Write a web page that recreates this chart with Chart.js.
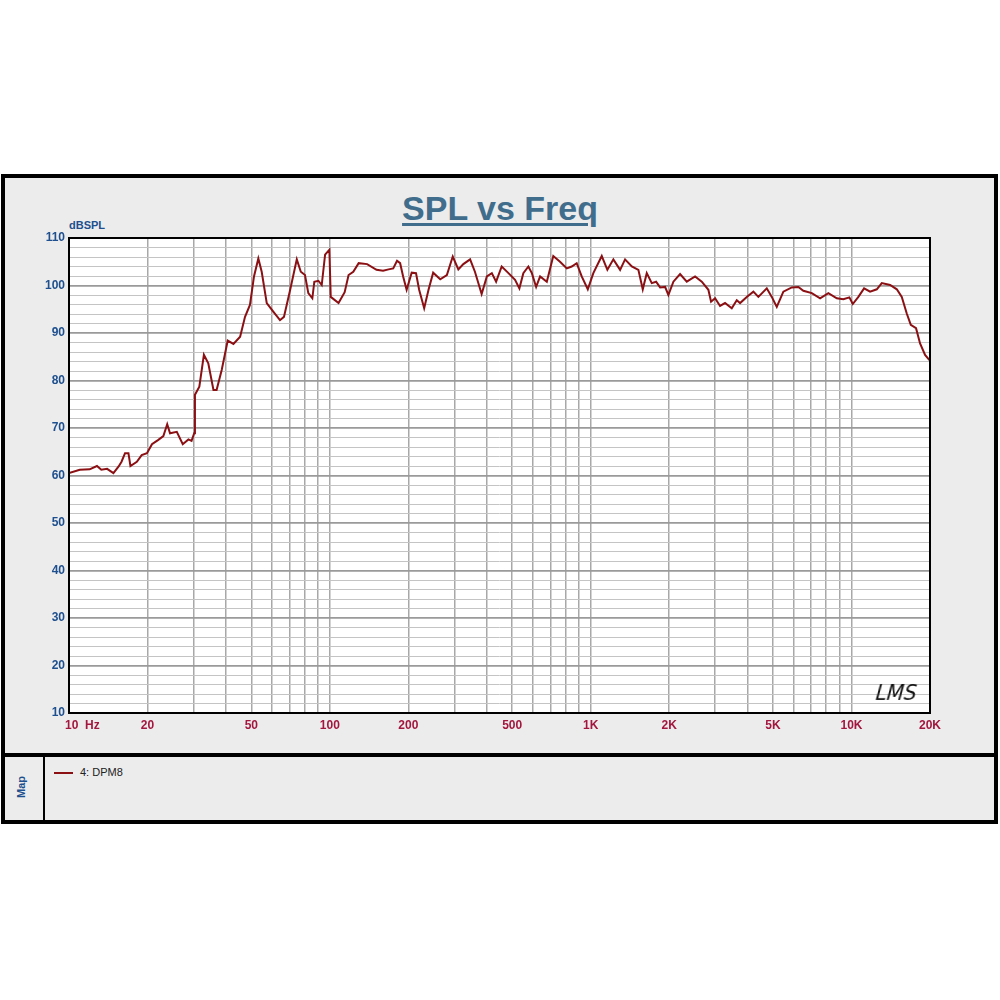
<!DOCTYPE html>
<html>
<head>
<meta charset="utf-8">
<script src="https://cdn.jsdelivr.net/npm/chart.js@4"></script>
<style>
  html, body { margin:0; padding:0; background:#ffffff; }
  #wrap { position:relative; width:1000px; height:1000px; overflow:hidden; font-family: Arial, "Liberation Sans", sans-serif; }
  #frame { position:absolute; left:1px; top:174px; width:989px; height:642px; border:4px solid #000; background:#ececec; }
  #sep { position:absolute; left:1px; top:753px; width:997px; height:4px; background:#000; }
  #vsep { position:absolute; left:43px; top:757px; width:2px; height:63px; background:#000; }
  #title { position:absolute; left:0; top:190px; width:1000px; text-align:center; font: bold 34px Arial, "Liberation Sans", sans-serif; line-height:36px; color:#416d8c; text-decoration: underline; text-decoration-thickness:3px; text-underline-offset:3px; }
  #yunit { position:absolute; left:69px; top:219px; font: bold 11px Arial, "Liberation Sans", sans-serif; color:#1e4f8e; }
  #map { position:absolute; left:9px; top:780px; width:26px; text-align:center; font: bold 11px Arial, "Liberation Sans", sans-serif; color:#1e4f8e; transform: rotate(-90deg); transform-origin: 13px 7px; }
  #legline { position:absolute; left:54px; top:772px; width:19px; height:2px; background:#8b1014; }
  #legtext { position:absolute; left:80px; top:766px; font: 11px Arial, "Liberation Sans", sans-serif; color:#222; }
  #lms { position:absolute; left:877px; top:682px; font: italic 21px "DejaVu Sans", sans-serif; line-height:22px; color:#111; transform: scaleX(0.95) skewX(-6deg); transform-origin: left top; }
  canvas { position:absolute; left:0; top:0; }
</style>
</head>
<body>
<div id="wrap">
  <div id="frame"></div>
  <div id="sep"></div>
  <div id="vsep"></div>
  <div id="title">SPL vs Freq</div>
  <div id="yunit">dBSPL</div>
  <div id="map">Map</div>
  <div id="legline"></div>
  <div id="legtext">4: DPM8</div>
  <canvas id="c" width="1000" height="1000" style="width:1000px;height:1000px"></canvas>
  <div id="lms">LMS</div>
</div>
<script>
// ---- data (frequency in Hz, level in dB SPL) ----
const seriesName = "4: DPM8";
const freqs = [
  10, 11.0, 12.0, 12.8, 13.3, 14.0, 14.8, 15.5, 15.9, 16.4, 16.9, 17.2, 18.2, 19.0, 19.9,
  20.8, 22.0, 23.0, 23.8, 24.4, 25.9, 27.3, 28.7, 29.5, 30.2, 30.4, 31.6, 32.9, 34.2, 35.8,
  36.8, 38.5, 40.6, 42.7, 45.3, 47.3, 49.4, 51.2, 53.2, 54.8, 57.3, 60.7, 64.4, 66.7, 70.4,
  74.7, 77.4, 80.3, 82.7, 85.7, 87.2, 90.4, 93.1, 95.9, 99.6, 100.8, 108, 114, 118, 123,
  129, 139, 151, 160, 168, 175, 181, 186, 191, 197, 206, 214, 220, 230, 239,
  249, 265, 281, 296, 311, 325, 345, 360, 382, 400, 418, 434, 456, 484, 513,
  533, 552, 577, 595, 618, 640, 679, 719, 763, 810, 846, 884, 924, 975, 1024,
  1103, 1159, 1222, 1297, 1355, 1438, 1524, 1584, 1641, 1715, 1782, 1846, 1929, 1986, 2076,
  2202, 2336, 2514, 2667, 2827, 2895, 2999, 3134, 3275, 3475, 3632, 3740, 3967, 4206, 4395,
  4734, 4948, 5171, 5481, 5903, 6257, 6540, 7044, 7579, 8155, 8782, 9309, 9815, 10116, 10627,
  11176, 11784, 12503, 13068, 14060, 14920, 15590, 16290, 16880, 17680, 18320, 19150, 19900
];
const spl = [
  60.5, 61.2, 61.3, 62.0, 61.2, 61.4, 60.5, 61.9, 62.9, 64.7, 64.7, 62.0, 62.9, 64.3, 64.7,
  66.6, 67.5, 68.3, 70.8, 68.9, 69.2, 66.6, 67.6, 67.3, 68.9, 77.0, 78.7, 85.4, 83.6, 78.0,
  78.0, 82.2, 88.4, 87.7, 89.2, 93.4, 95.9, 101.9, 105.7, 102.9, 96.3, 94.5, 92.7, 93.4, 99.0,
  105.5, 102.9, 102.2, 98.4, 97.3, 100.8, 101.0, 100.1, 106.5, 107.5, 97.6, 96.3, 98.6, 102.2, 102.9,
  104.7, 104.5, 103.3, 103.1, 103.4, 103.6, 105.2, 104.7, 101.9, 99.1, 102.7, 102.6, 99.1, 95.2, 99.1,
  102.7, 101.3, 102.2, 106.1, 103.4, 104.5, 105.5, 102.9, 98.2, 101.9, 102.6, 100.8, 104.0, 102.6, 101.2,
  99.4, 102.6, 104.0, 102.6, 99.7, 101.9, 100.8, 106.2, 105.0, 103.6, 104.0, 104.7, 101.9, 99.2, 102.6,
  106.2, 103.3, 105.5, 103.3, 105.5, 104.0, 103.3, 99.2, 102.6, 100.5, 100.8, 99.6, 99.7, 98.0, 100.8,
  102.4, 100.8, 101.9, 100.8, 99.1, 96.6, 97.3, 95.7, 96.3, 95.2, 96.9, 96.3, 97.6, 98.7, 97.6,
  99.4, 97.6, 95.5, 98.7, 99.6, 99.7, 98.9, 98.4, 97.3, 98.4, 97.3, 97.1, 97.5, 96.1, 97.6,
  99.4, 98.7, 99.2, 100.5, 100.1, 99.2, 97.6, 94.1, 91.7, 91.0, 87.8, 85.4, 84.3
];
// x axis: labelled ticks and every gridline position
const xTickValues = [10, 20, 50, 100, 200, 500, 1000, 2000, 5000, 10000, 20000];
const xTickLabels = ["        10  Hz", "20", "50", "100", "200", "500", "1K", "2K", "5K", "10K", "20K"];
const xGridValues = [10,20,30,40,50,60,70,80,90,100,200,300,400,500,600,700,800,900,
  1000,2000,3000,4000,5000,6000,7000,8000,9000,10000,20000];
// y axis: labelled ticks (every 10) and minor gridlines (every 2)
const yTickLabels = [10, 20, 30, 40, 50, 60, 70, 80, 90, 100, 110];
const yGridValues = [10,12,14,16,18,20,22,24,26,28,30,32,34,36,38,40,42,44,46,48,50,
  52,54,56,58,60,62,64,66,68,70,72,74,76,78,80,82,84,86,88,90,92,94,96,98,100,102,104,106,108,110];

const points = freqs.map((f, i) => ({ x: f, y: spl[i] }));

const plotFrame = {
  id: 'plotFrame',
  beforeDraw(chart) {
    const a = chart.chartArea, ctx = chart.ctx;
    ctx.save();
    ctx.fillStyle = '#ffffff';
    ctx.fillRect(a.left, a.top, a.right - a.left, a.bottom - a.top);
    ctx.restore();
  },
  afterDraw(chart) {
    const a = chart.chartArea, ctx = chart.ctx;
    ctx.save();
    ctx.strokeStyle = '#000';
    ctx.lineWidth = 2;
    ctx.strokeRect(a.left, a.top, a.right - a.left, a.bottom - a.top);
    ctx.restore();
  }
};

new Chart(document.getElementById('c'), {
  type: 'line',
  data: {
    datasets: [{
      label: seriesName,
      data: points,
      borderColor: '#8b1014',
      borderWidth: 2,
      pointRadius: 0,
      tension: 0,
      fill: false
    }]
  },
  options: {
    responsive: false,
    animation: false,
    layout: { padding: { top: 238, right: 70, left: 0, bottom: 0 } },
    plugins: { legend: { display: false }, tooltip: { enabled: false }, title: { display: false } },
    scales: {
      x: {
        type: 'logarithmic',
        min: 10, max: 20000,
        afterBuildTicks(scale) { scale.ticks = xGridValues.map(v => ({ value: v })); },
        afterFit(scale) { scale.height = 287; },
        grid: { color: '#a8a8a8', lineWidth: 1.5, drawTicks: false },
        border: { display: false },
        ticks: {
          autoSkip: false, maxRotation: 0, minRotation: 0, padding: 5,
          color: '#a3173f',
          font: { family: 'Arial, "Liberation Sans", sans-serif', size: 12, weight: 'bold' },
          callback(value) {
            const k = xTickValues.indexOf(value);
            return k >= 0 ? xTickLabels[k] : '';
          }
        }
      },
      y: {
        type: 'linear',
        min: 10, max: 110,
        afterBuildTicks(scale) { scale.ticks = yGridValues.map(v => ({ value: v })); },
        afterFit(scale) { scale.width = 69; },
        grid: {
          drawTicks: false,
          color: ctx => (yTickLabels.includes(ctx.tick.value) ? '#9a9a9a' : '#c4c4c4'),
          lineWidth: ctx => (yTickLabels.includes(ctx.tick.value) ? 1.8 : 1)
        },
        border: { display: false },
        ticks: {
          autoSkip: false, padding: 4,
          color: '#1e4f8e',
          font: { family: 'Arial, "Liberation Sans", sans-serif', size: 12, weight: 'bold' },
          callback(value) { return yTickLabels.includes(value) ? String(value) : ''; }
        }
      }
    }
  },
  plugins: [plotFrame]
});
</script>
</body>
</html>
